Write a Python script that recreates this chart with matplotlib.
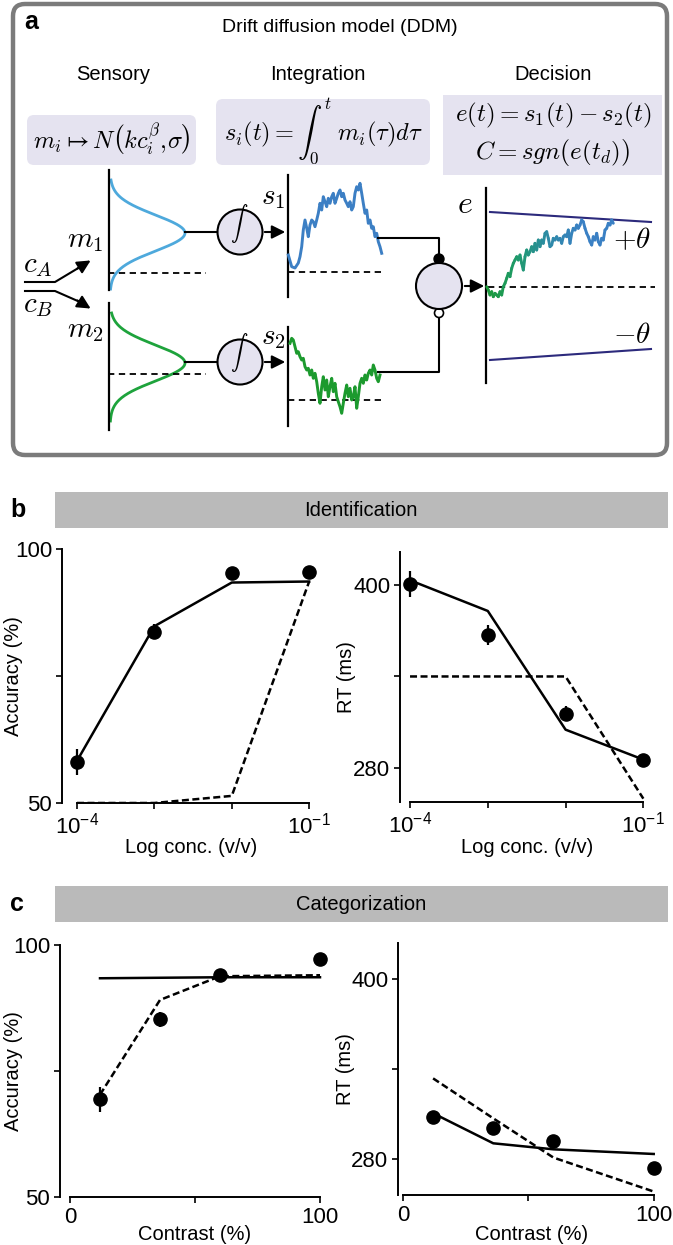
import numpy as np
import matplotlib.pyplot as plt
from matplotlib.patches import FancyBboxPatch, Rectangle, Circle
from matplotlib.collections import LineCollection
from matplotlib.colors import LinearSegmentedColormap

plt.rcParams['font.family'] = ['Liberation Sans', 'DejaVu Sans']
plt.rcParams['mathtext.fontset'] = 'custom'
plt.rcParams['mathtext.rm'] = 'Liberation Sans'
plt.rcParams['mathtext.it'] = 'Liberation Sans:italic'

W, H = 673, 1245

# ---- data, panel b (identification)
conc = [1e-4, 1e-3, 1e-2, 1e-1]
id_acc = [58.1, 83.7, 95.2, 95.5]
id_acc_err = [2.6, 1.5, 0.8, 0.8]
id_acc_ddm = [58.3, 84.8, 93.4, 93.6]
id_acc_alt = [50.0, 50.0, 51.4, 93.6]
id_rt = [401.1, 367.1, 315.6, 284.8]
id_rt_err = [8.5, 6.5, 5.0, 3.0]
id_rt_ddm = [403.3, 383.1, 305.0, 285.3]
id_rt_alt = [340.0, 340.0, 340.0, 259.6]

# ---- data, panel c (categorization)
contrast = [12, 36, 60, 100]
cat_acc = [69.4, 85.3, 94.0, 97.3]
cat_acc_err = [2.5, 1.5, 0.8, 0.8]
cat_acc_ddm = [93.4, 93.5, 93.6, 93.6]
cat_acc_alt = [70.3, 89.1, 93.8, 94.0]
cat_rt = [308.1, 300.4, 292.0, 273.8]
cat_rt_err = [4.0, 3.0, 3.0, 2.0]
cat_rt_ddm = [310.4, 290.4, 286.4, 283.3]
cat_rt_alt = [333.6, 307.0, 280.9, 258.3]

# ---- schematic traces in panel a (pixel positions)
s1_x = [288.3, 291.7, 295, 298.3, 300, 301.7, 303.3, 305, 306.7, 308.3, 310, 311.7, 313.3, 315,
        316.7, 318.3, 320, 321.7, 323.3, 325, 326.7, 328.3, 330, 331.7, 333.3, 335, 336.7, 338.3,
        340, 341.7, 343.3, 345, 346.7, 348.3, 350, 351.7, 353.3, 355, 356.7, 358.3, 360, 361.7,
        363.3, 365, 366.7, 368.3, 370, 371.7, 373.3, 375, 376.7, 378.3, 380, 381.7]
s1_y = [255, 266.7, 268, 263, 256.7, 246.7, 230, 220, 228, 236.7, 225, 220, 221.7, 226.7,
        220, 213.3, 203.3, 210, 196.7, 201.7, 206.7, 198.3, 203.3, 196.7, 193.3, 203.3, 198.3, 193.3,
        190, 196.7, 193.3, 200, 203.3, 206.7, 201.7, 210, 206.7, 193.3, 186.7, 190, 183.3, 193.3,
        203.3, 213.3, 210, 223.3, 220, 228.3, 226.7, 236.7, 233.3, 241.7, 246.7, 253.3]
s2_x = [290, 291.7, 293.3, 295, 296.7, 298.3, 300, 301.7, 303.3, 305, 306.7, 308.3, 310, 311.7,
        313.3, 315, 316.7, 318.3, 320, 321.7, 323.3, 325, 326.7, 328.3, 330, 331.7, 333.3, 335,
        336.7, 338.3, 340, 341.7, 343.3, 345, 346.7, 348.3, 350, 351.7, 353.3, 355, 356.7, 358.3,
        360, 361.7, 363.3, 365, 366.7, 368.3, 370, 371.7, 373.3, 375, 376.7, 378.3, 380]
s2_y = [343.3, 338.3, 340, 346.7, 353.3, 351.7, 356.7, 360, 358.3, 366.7, 370, 368.3, 375, 370,
        378.3, 373.3, 381.7, 393.3, 403.3, 386.7, 376.7, 390, 380, 396.7, 386.7, 378.3, 391.7, 383.3,
        396.7, 401.7, 406.7, 413.3, 403.3, 393.3, 385, 396.7, 388.3, 400, 396.7, 386.7, 408.3, 396.7,
        383.3, 378.3, 383.3, 375, 380, 373.3, 370, 375, 365, 370, 378.3, 381.7, 375]
e_x = [486.7, 488.3, 490, 491.7, 493.3, 495, 496.7, 498.3, 500, 501.7, 503.3, 505, 506.7, 508.3,
       510, 511.7, 513.3, 515, 516.7, 518.3, 520, 521.7, 523.3, 525, 526.7, 528.3, 530, 531.7,
       533.3, 535, 536.7, 538.3, 540, 541.7, 543.3, 545, 546.7, 548.3, 550, 551.7, 553.3, 555,
       556.7, 558.3, 560, 561.7, 563.3, 565, 566.7, 568.3, 570, 571.7, 573.3, 575, 576.7, 578.3,
       580, 581.7, 583.3, 585, 586.7, 588.3, 590, 591.7, 593.3, 595, 596.7, 598.3, 600, 601.7,
       603.3, 605, 606.7, 608.3, 610, 611.7, 613.3]
e_y = [286.7, 290, 295, 291.7, 296.7, 293.3, 295, 296.7, 291.7, 295, 286.7, 283.3, 278.3, 273.3,
       276.7, 268.3, 263.3, 260, 256.7, 260, 255, 263.3, 270, 256.7, 250, 255, 251.7, 246.7,
       251.7, 243.3, 250, 240, 246.7, 240, 243.3, 233.3, 231.7, 238.3, 246.7, 245, 238.3, 240,
       236.7, 240, 238.3, 243.3, 236.7, 235, 236.7, 230, 243.3, 233.3, 228.3, 230, 225, 228.3,
       225, 220, 221.7, 228.3, 233.3, 236.7, 241.7, 245, 236.7, 240, 233.3, 241.7, 245, 238.3,
       240, 230, 228.3, 223.3, 225, 220, 223.3]

fig = plt.figure(figsize=(W / 100, H / 100), dpi=100)
ov = fig.add_axes([0, 0, 1, 1])
ov.set_xlim(0, W)
ov.set_ylim(H, 0)
ov.axis('off')

CM = dict(math_fontfamily='cm')
lav = '#e5e3f0'
dash = (0, (3.5, 2.5))

# ---------------- panel a ----------------
ov.add_patch(FancyBboxPatch((13, 4), 654, 451, boxstyle='round,pad=0,rounding_size=12',
                            fc='white', ec='#7b7b7b', lw=3.2))
ov.text(24, 22, 'a', fontsize=18, fontweight='bold', va='center')
ov.text(340, 28, 'Drift diffusion model (DDM)', fontsize=14, ha='center', va='center')
for x, t in [(113, 'Sensory'), (318, 'Integration'), (553, 'Decision')]:
    ov.text(x, 75, t, fontsize=14.5, ha='center', va='center')

ov.add_patch(FancyBboxPatch((27, 115), 169, 50, boxstyle='round,pad=0,rounding_size=7',
                            fc=lav, ec='none'))
ov.add_patch(FancyBboxPatch((216, 99), 214, 66, boxstyle='round,pad=0,rounding_size=7',
                            fc=lav, ec='none'))
ov.add_patch(Rectangle((443, 95), 219, 80, fc=lav, ec='none'))
ov.text(112, 140, r'$m_i \mapsto N\left(kc_i^\beta,\!\sigma\right)$', fontsize=17.5,
        ha='center', va='center', **CM)
ov.text(324, 132, r'$s_i(t) = \int_0^t\ m_i(\tau)d\tau$', fontsize=17.5,
        ha='center', va='center', **CM)
ov.text(553, 115, r'$e(t) = s_1(t) - s_2(t)$', fontsize=18, ha='center', va='center', **CM)
ov.text(553, 152, r'$C = sgn\left(e(t_d)\right)$', fontsize=18, ha='center', va='center', **CM)

# inputs
ov.plot([25, 55, 80], [282, 282, 267], color='k', lw=1.5)
ov.plot([25, 55, 80], [291, 291, 302], color='k', lw=1.5)
ov.annotate('', xy=(93, 259), xytext=(75, 270),
            arrowprops=dict(arrowstyle='-|>', color='k', lw=1.5, mutation_scale=20))
ov.annotate('', xy=(93, 310), xytext=(75, 299),
            arrowprops=dict(arrowstyle='-|>', color='k', lw=1.5, mutation_scale=20))
ov.text(38, 265, r'$c_A$', fontsize=21, ha='center', va='center', **CM)
ov.text(38, 305, r'$c_B$', fontsize=21, ha='center', va='center', **CM)
ov.text(85, 240, r'$m_1$', fontsize=21, ha='center', va='center', **CM)
ov.text(85, 330, r'$m_2$', fontsize=21, ha='center', va='center', **CM)

# sensory gaussians
g_sigma = 18
for mu, top, bot, col, base in [(233, 180, 289, '#4ea9dc', 273), (363, 313, 421, '#1ea33c', 374)]:
    yy = np.linspace(top, bot, 200)
    ov.plot(110 + 75 * np.exp(-(yy - mu) ** 2 / (2 * g_sigma ** 2)), yy, color=col, lw=2)
    ov.plot([108, 206], [base, base], color='k', lw=1.3, ls=dash)
ov.plot([108.5, 108.5], [170, 290], color='k', lw=1.6)
ov.plot([108.5, 108.5], [303, 430], color='k', lw=1.6)

# integrators
for cy in [232, 362]:
    ov.plot([185, 217], [cy, cy], color='k', lw=1.5)
    ov.add_patch(Circle((240, cy), 22.5, fc=lav, ec='k', lw=1.5, zorder=3))
    ov.text(239, cy - 9, r'$\int$', fontsize=12.5, ha='center', va='center', zorder=4, **CM)
    ov.annotate('', xy=(288, cy), xytext=(262, cy),
                arrowprops=dict(arrowstyle='-|>', color='k', lw=1.5, mutation_scale=20))

# accumulators
ov.plot([288, 288], [175, 297], color='k', lw=1.6)
ov.plot([288, 288], [327, 426], color='k', lw=1.6)
ov.plot([288, 382], [272, 272], color='k', lw=1.3, ls=dash)
ov.plot([288, 382], [400, 400], color='k', lw=1.3, ls=dash)
ov.plot(s1_x, s1_y, color='#3c7fc4', lw=2.1)
ov.plot(s2_x, s2_y, color='#1c9a2e', lw=2.1)
ov.text(273, 197, r'$s_1$', fontsize=21, ha='center', va='center', **CM)
ov.text(273, 337, r'$s_2$', fontsize=21, ha='center', va='center', **CM)

# comparator
ov.plot([378, 439, 439], [238, 238, 262], color='k', lw=1.5)
ov.plot([378, 439, 439], [372, 372, 313], color='k', lw=1.5)
ov.add_patch(Circle((439, 259), 5, fc='k', ec='k', zorder=3))
ov.add_patch(Circle((439, 286), 23, fc=lav, ec='k', lw=1.5, zorder=4))
ov.add_patch(Circle((439, 313), 4.5, fc='white', ec='k', lw=1.2, zorder=3))
ov.annotate('', xy=(487, 286), xytext=(462, 286),
            arrowprops=dict(arrowstyle='-|>', color='k', lw=1.5, mutation_scale=20))

# decision variable
ov.plot([486, 486], [188, 383], color='k', lw=1.6)
ov.plot([490, 651], [212, 222], color='#2c2a7c', lw=1.5)
ov.plot([490, 651], [360, 349], color='#2c2a7c', lw=1.5)
ov.plot([488, 655], [287, 287], color='k', lw=1.3, ls=dash)
pts = np.column_stack([e_x, e_y])
segs = np.stack([pts[:-1], pts[1:]], axis=1)
e_cmap = LinearSegmentedColormap.from_list('e', ['#1c9a3a', '#1f9a6e', '#2e8aa8', '#3a80c4', '#3a80c4'])
lc = LineCollection(segs, colors=e_cmap(np.linspace(0, 1, len(segs))), lw=2.1, capstyle='round')
ov.add_collection(lc)
ov.text(465, 205, r'$e$', fontsize=23, ha='center', va='center', **CM)
ov.text(632, 240, r'$+\theta$', fontsize=21, ha='center', va='center', **CM)
ov.text(632, 335, r'$-\theta$', fontsize=21, ha='center', va='center', **CM)

# ---------------- panels b and c ----------------
for y0, y1, lab, name in [(492, 528, 'b', 'Identification'), (886, 922, 'c', 'Categorization')]:
    ov.add_patch(Rectangle((55, y0), 613, y1 - y0, fc='#bababa', ec='none'))
    ov.text(361, (y0 + y1) / 2, name, fontsize=14.5, ha='center', va='center')
    ov.text(10, (y0 + y1) / 2, lab, fontsize=18, fontweight='bold', va='center')


def px_axes(left, top, right, bottom):
    return fig.add_axes([left / W, 1 - bottom / H, (right - left) / W, (bottom - top) / H])


def style(ax, xbounds, ybounds):
    for s in ['top', 'right']:
        ax.spines[s].set_visible(False)
    ax.spines['bottom'].set_bounds(*xbounds)
    ax.spines['left'].set_bounds(*ybounds)
    for s in ['left', 'bottom']:
        ax.spines[s].set_linewidth(1.4)
    ax.tick_params(direction='out', length=4, width=1.2, labelsize=16, pad=3)
    ax.patch.set_alpha(0)


def draw(ax, x, obs, err, ddm, alt):
    ax.plot(x, ddm, color='k', lw=1.8, zorder=2)
    ax.plot(x, alt, color='k', lw=1.8, ls=(0, (2.8, 1.4)), zorder=2)
    ax.errorbar(x, obs, yerr=err, fmt='o', color='k', ms=9.5, elinewidth=1.6, capsize=0, zorder=3)


# b left: accuracy
ax = px_axes(62, 549, 320, 803)
draw(ax, conc, id_acc, id_acc_err, id_acc_ddm, id_acc_alt)
ax.set_xscale('log')
ax.set_xlim(10 ** -4.194, 10 ** -0.86)
ax.set_ylim(50, 100)
ax.set_yticks([50, 75, 100], ['50', '', '100'])
ax.set_xticks(conc, [r'$\mathregular{10^{-4}}$', '', '', r'$\mathregular{10^{-1}}$'])
ax.minorticks_off()
style(ax, (1e-4, 1e-1), (50, 100))
ax.set_ylabel('Accuracy (%)', fontsize=14.5)
ax.yaxis.set_label_coords(-0.151, 0.5)
ax.set_xlabel('Log conc. (v/v)', fontsize=14.5)
ax.xaxis.set_label_coords(0.5, -0.138)

# b right: RT
ax = px_axes(400, 552, 655, 802)
draw(ax, conc, id_rt, id_rt_err, id_rt_ddm, id_rt_alt)
ax.set_xscale('log')
ax.set_xlim(10 ** -4.129, 10 ** -0.85)
ax.set_ylim(257.4, 421.9)
ax.set_yticks([280, 340, 400], ['280', '', '400'])
ax.set_xticks(conc, [r'$\mathregular{10^{-4}}$', '', '', r'$\mathregular{10^{-1}}$'])
ax.minorticks_off()
style(ax, (1e-4, 1e-1), (257.4, 421.9))
ax.set_ylabel('RT (ms)', fontsize=14.5)
ax.yaxis.set_label_coords(-0.173, 0.5)
ax.set_xlabel('Log conc. (v/v)', fontsize=14.5)
ax.xaxis.set_label_coords(0.5, -0.144)

# c left: accuracy
ax = px_axes(60, 945, 330, 1197)
draw(ax, contrast, cat_acc, cat_acc_err, cat_acc_ddm, cat_acc_alt)
ax.set_xlim(-4, 104)
ax.set_ylim(50, 100)
ax.set_yticks([50, 75, 100], ['50', '', '100'])
ax.set_xticks([0, 50, 100], ['0', '', '100'])
style(ax, (0, 100), (50, 100))
ax.set_ylabel('Accuracy (%)', fontsize=14.5)
ax.yaxis.set_label_coords(-0.137, 0.5)
ax.set_xlabel('Contrast (%)', fontsize=14.5)
ax.xaxis.set_label_coords(0.5, -0.111)

# c right: RT
ax = px_axes(398, 943, 665, 1195)
draw(ax, contrast, cat_rt, cat_rt_err, cat_rt_ddm, cat_rt_alt)
ax.set_xlim(-2, 104.5)
ax.set_ylim(256, 423.7)
ax.set_yticks([280, 340, 400], ['280', '', '400'])
ax.set_xticks([0, 50, 100], ['0', '', '100'])
style(ax, (0, 100), (256, 423.7))
ax.set_ylabel('RT (ms)', fontsize=14.5)
ax.yaxis.set_label_coords(-0.161, 0.5)
ax.set_xlabel('Contrast (%)', fontsize=14.5)
ax.xaxis.set_label_coords(0.5, -0.119)

fig.savefig('out.png', dpi=100)
